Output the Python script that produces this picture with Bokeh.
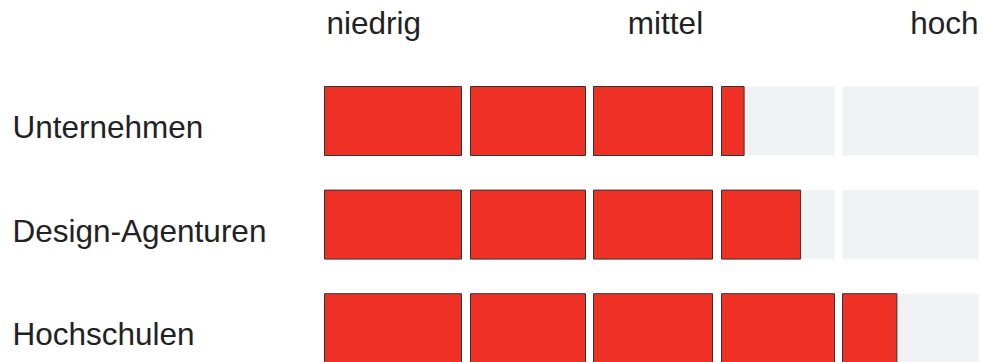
from bokeh.plotting import figure
from bokeh.models import Range1d, ColumnDataSource
from bokeh.core.properties import value
from bokeh.embed import file_html
from bokeh.resources import INLINE

# ---- data ----
categories = ["Unternehmen", "Design-Agenturen", "Hochschulen"]
scores = [3.2, 3.7, 4.4]          # score on a 5-step scale
scale_labels = ["niedrig", "mittel", "hoch"]

# ---- layout (pixel-like data units, origin at bar start) ----
seg_left = [0, 146, 269, 397, 518]
seg_right = [137, 261, 388, 510, 654]
row_y0 = 120.5
row_step = 103.6
bar_h = 69
label_x = [2, 341, 654]

RED = "#EE3124"
GREY = "#F1F2F4"
FONT = "Liberation Sans"

p = figure(width=984, height=362, output_backend="svg", toolbar_location=None,
           x_range=Range1d(-324, 660), y_range=Range1d(362, 0),
           min_border=0, min_border_left=0, min_border_right=0,
           min_border_top=0, min_border_bottom=0)
p.axis.visible = False
p.grid.visible = False
p.outline_line_color = None
p.background_fill_color = "white"
p.border_fill_color = "white"

bg = dict(left=[], right=[], top=[], bottom=[])
fg = dict(left=[], right=[], top=[], bottom=[])
for r, (cat, v) in enumerate(zip(categories, scores)):
    yc = row_y0 + r * row_step
    for i, (l, rr) in enumerate(zip(seg_left, seg_right)):
        bg["left"].append(l); bg["right"].append(rr)
        bg["top"].append(yc - bar_h / 2); bg["bottom"].append(yc + bar_h / 2)
        frac = min(max(v - i, 0.0), 1.0)
        if frac > 0:
            fg["left"].append(l); fg["right"].append(l + frac * (rr - l))
            fg["top"].append(yc - bar_h / 2); fg["bottom"].append(yc + bar_h / 2)

p.quad(source=ColumnDataSource(bg), left="left", right="right", top="top", bottom="bottom",
       fill_color=GREY, line_color=None)
p.quad(source=ColumnDataSource(fg), left="left", right="right", top="top", bottom="bottom",
       fill_color=RED, line_color="#333333", line_width=1)

# row labels
ys = [row_y0 + r * row_step for r in range(len(categories))]
p.text(x=[-312] * len(categories), y=ys, text=categories, y_offset=6,
       text_font=value(FONT), text_font_size="31.5px", text_color="#222222",
       text_align="left", text_baseline="alphabetic")

# scale labels
p.text(x=label_x, y=[22] * 3,
       text=scale_labels, text_align=["left", "center", "right"],
       text_font=value(FONT), text_font_size="31.5px", text_color="#222222",
       text_baseline="alphabetic")

open("out.html", "w").write(file_html(p, INLINE))
